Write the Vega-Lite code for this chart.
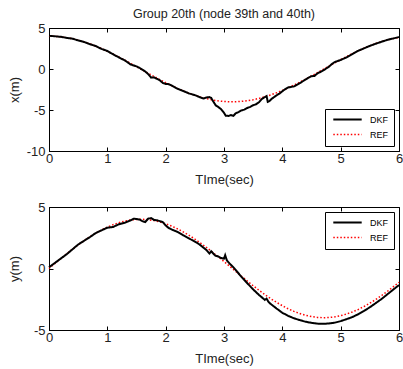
{
  "$schema": "https://vega.github.io/schema/vega-lite/v6.json",
  "padding": {"left": 7, "top": 7, "right": 0, "bottom": 0},
  "datasets": {
    "top": [
      {"s":"REF","t":0,"v":4.000},{"s":"REF","t":0.1,"v":3.980},{"s":"REF","t":0.2,"v":3.920},{"s":"REF","t":0.3,"v":3.821},{"s":"REF","t":0.4,"v":3.684},{"s":"REF","t":0.5,"v":3.510},{"s":"REF","t":0.6,"v":3.301},{"s":"REF","t":0.7,"v":3.059},{"s":"REF","t":0.8,"v":2.787},{"s":"REF","t":0.9,"v":2.486},{"s":"REF","t":1.0,"v":2.161},{"s":"REF","t":1.1,"v":1.814},{"s":"REF","t":1.2,"v":1.449},{"s":"REF","t":1.3,"v":1.070},{"s":"REF","t":1.4,"v":0.680},{"s":"REF","t":1.5,"v":0.283},{"s":"REF","t":1.6,"v":-0.117},{"s":"REF","t":1.7,"v":-0.515},{"s":"REF","t":1.8,"v":-0.909},{"s":"REF","t":1.9,"v":-1.293},{"s":"REF","t":2.0,"v":-1.665},{"s":"REF","t":2.1,"v":-2.019},{"s":"REF","t":2.2,"v":-2.354},{"s":"REF","t":2.3,"v":-2.665},{"s":"REF","t":2.4,"v":-2.950},{"s":"REF","t":2.5,"v":-3.205},{"s":"REF","t":2.6,"v":-3.428},{"s":"REF","t":2.7,"v":-3.616},{"s":"REF","t":2.8,"v":-3.769},{"s":"REF","t":2.9,"v":-3.884},{"s":"REF","t":3.0,"v":-3.960},{"s":"REF","t":3.1,"v":-3.997},{"s":"REF","t":3.2,"v":-3.993},{"s":"REF","t":3.3,"v":-3.950},{"s":"REF","t":3.4,"v":-3.867},{"s":"REF","t":3.5,"v":-3.746},{"s":"REF","t":3.6,"v":-3.587},{"s":"REF","t":3.7,"v":-3.392},{"s":"REF","t":3.8,"v":-3.164},{"s":"REF","t":3.9,"v":-2.904},{"s":"REF","t":4.0,"v":-2.615},{"s":"REF","t":4.1,"v":-2.299},{"s":"REF","t":4.2,"v":-1.961},{"s":"REF","t":4.3,"v":-1.603},{"s":"REF","t":4.4,"v":-1.229},{"s":"REF","t":4.5,"v":-0.843},{"s":"REF","t":4.6,"v":-0.449},{"s":"REF","t":4.7,"v":-0.050},{"s":"REF","t":4.8,"v":0.350},{"s":"REF","t":4.9,"v":0.746},{"s":"REF","t":5.0,"v":1.135},{"s":"REF","t":5.1,"v":1.512},{"s":"REF","t":5.2,"v":1.874},{"s":"REF","t":5.3,"v":2.217},{"s":"REF","t":5.4,"v":2.539},{"s":"REF","t":5.5,"v":2.835},{"s":"REF","t":5.6,"v":3.102},{"s":"REF","t":5.7,"v":3.339},{"s":"REF","t":5.8,"v":3.542},{"s":"REF","t":5.9,"v":3.710},{"s":"REF","t":6.0,"v":3.841},
      {"s":"DKF","t":0,"v":4.05},{"s":"DKF","t":0.1,"v":3.99},{"s":"DKF","t":0.2,"v":3.93},{"s":"DKF","t":0.3,"v":3.80},{"s":"DKF","t":0.4,"v":3.70},{"s":"DKF","t":0.5,"v":3.49},{"s":"DKF","t":0.6,"v":3.30},{"s":"DKF","t":0.7,"v":3.03},{"s":"DKF","t":0.8,"v":2.80},{"s":"DKF","t":0.9,"v":2.45},{"s":"DKF","t":1.0,"v":2.20},{"s":"DKF","t":1.05,"v":1.98},{"s":"DKF","t":1.1,"v":1.80},{"s":"DKF","t":1.2,"v":1.40},{"s":"DKF","t":1.3,"v":1.05},{"s":"DKF","t":1.35,"v":0.80},{"s":"DKF","t":1.4,"v":0.55},{"s":"DKF","t":1.5,"v":0.32},{"s":"DKF","t":1.55,"v":0.15},{"s":"DKF","t":1.6,"v":-0.08},{"s":"DKF","t":1.65,"v":-0.30},{"s":"DKF","t":1.7,"v":-0.62},{"s":"DKF","t":1.75,"v":-1.05},{"s":"DKF","t":1.8,"v":-1.02},{"s":"DKF","t":1.85,"v":-1.20},{"s":"DKF","t":1.9,"v":-1.38},{"s":"DKF","t":1.95,"v":-1.70},{"s":"DKF","t":2.0,"v":-1.82},{"s":"DKF","t":2.05,"v":-1.85},{"s":"DKF","t":2.1,"v":-2.00},{"s":"DKF","t":2.2,"v":-2.40},{"s":"DKF","t":2.3,"v":-2.68},{"s":"DKF","t":2.4,"v":-2.98},{"s":"DKF","t":2.5,"v":-3.18},{"s":"DKF","t":2.6,"v":-3.48},{"s":"DKF","t":2.65,"v":-3.60},{"s":"DKF","t":2.7,"v":-3.48},{"s":"DKF","t":2.75,"v":-3.42},{"s":"DKF","t":2.78,"v":-3.52},{"s":"DKF","t":2.82,"v":-4.00},{"s":"DKF","t":2.86,"v":-4.45},{"s":"DKF","t":2.9,"v":-4.62},{"s":"DKF","t":2.95,"v":-4.90},{"s":"DKF","t":3.0,"v":-5.35},{"s":"DKF","t":3.03,"v":-5.70},{"s":"DKF","t":3.08,"v":-5.72},{"s":"DKF","t":3.12,"v":-5.62},{"s":"DKF","t":3.16,"v":-5.72},{"s":"DKF","t":3.2,"v":-5.40},{"s":"DKF","t":3.25,"v":-5.25},{"s":"DKF","t":3.3,"v":-5.05},{"s":"DKF","t":3.35,"v":-4.95},{"s":"DKF","t":3.4,"v":-4.75},{"s":"DKF","t":3.45,"v":-4.62},{"s":"DKF","t":3.5,"v":-4.42},{"s":"DKF","t":3.55,"v":-4.30},{"s":"DKF","t":3.6,"v":-4.05},{"s":"DKF","t":3.65,"v":-3.65},{"s":"DKF","t":3.7,"v":-3.42},{"s":"DKF","t":3.73,"v":-3.30},{"s":"DKF","t":3.75,"v":-4.00},{"s":"DKF","t":3.78,"v":-3.90},{"s":"DKF","t":3.82,"v":-3.62},{"s":"DKF","t":3.9,"v":-3.22},{"s":"DKF","t":3.95,"v":-3.00},{"s":"DKF","t":4.0,"v":-2.72},{"s":"DKF","t":4.05,"v":-2.45},{"s":"DKF","t":4.1,"v":-2.25},{"s":"DKF","t":4.2,"v":-2.12},{"s":"DKF","t":4.3,"v":-1.72},{"s":"DKF","t":4.4,"v":-1.28},{"s":"DKF","t":4.45,"v":-1.05},{"s":"DKF","t":4.5,"v":-0.88},{"s":"DKF","t":4.55,"v":-0.85},{"s":"DKF","t":4.6,"v":-0.55},{"s":"DKF","t":4.7,"v":-0.18},{"s":"DKF","t":4.8,"v":0.28},{"s":"DKF","t":4.85,"v":0.62},{"s":"DKF","t":4.9,"v":0.85},{"s":"DKF","t":5.0,"v":1.10},{"s":"DKF","t":5.1,"v":1.42},{"s":"DKF","t":5.2,"v":1.82},{"s":"DKF","t":5.3,"v":2.22},{"s":"DKF","t":5.4,"v":2.52},{"s":"DKF","t":5.5,"v":2.82},{"s":"DKF","t":5.6,"v":3.08},{"s":"DKF","t":5.7,"v":3.32},{"s":"DKF","t":5.8,"v":3.55},{"s":"DKF","t":5.9,"v":3.72},{"s":"DKF","t":6.0,"v":3.90}
    ],
    "bottom": [
      {"s":"REF","t":0,"v":0.000},{"s":"REF","t":0.1,"v":0.399},{"s":"REF","t":0.2,"v":0.795},{"s":"REF","t":0.3,"v":1.182},{"s":"REF","t":0.4,"v":1.558},{"s":"REF","t":0.5,"v":1.918},{"s":"REF","t":0.6,"v":2.259},{"s":"REF","t":0.7,"v":2.577},{"s":"REF","t":0.8,"v":2.869},{"s":"REF","t":0.9,"v":3.133},{"s":"REF","t":1.0,"v":3.366},{"s":"REF","t":1.1,"v":3.565},{"s":"REF","t":1.2,"v":3.728},{"s":"REF","t":1.3,"v":3.854},{"s":"REF","t":1.4,"v":3.942},{"s":"REF","t":1.5,"v":3.990},{"s":"REF","t":1.6,"v":3.998},{"s":"REF","t":1.7,"v":3.967},{"s":"REF","t":1.8,"v":3.895},{"s":"REF","t":1.9,"v":3.785},{"s":"REF","t":2.0,"v":3.637},{"s":"REF","t":2.1,"v":3.453},{"s":"REF","t":2.2,"v":3.234},{"s":"REF","t":2.3,"v":2.983},{"s":"REF","t":2.4,"v":2.702},{"s":"REF","t":2.5,"v":2.394},{"s":"REF","t":2.6,"v":2.062},{"s":"REF","t":2.7,"v":1.710},{"s":"REF","t":2.8,"v":1.340},{"s":"REF","t":2.9,"v":0.957},{"s":"REF","t":3.0,"v":0.564},{"s":"REF","t":3.1,"v":0.166},{"s":"REF","t":3.2,"v":-0.233},{"s":"REF","t":3.3,"v":-0.631},{"s":"REF","t":3.4,"v":-1.022},{"s":"REF","t":3.5,"v":-1.403},{"s":"REF","t":3.6,"v":-1.770},{"s":"REF","t":3.7,"v":-2.119},{"s":"REF","t":3.8,"v":-2.447},{"s":"REF","t":3.9,"v":-2.751},{"s":"REF","t":4.0,"v":-3.027},{"s":"REF","t":4.1,"v":-3.273},{"s":"REF","t":4.2,"v":-3.486},{"s":"REF","t":4.3,"v":-3.665},{"s":"REF","t":4.4,"v":-3.806},{"s":"REF","t":4.5,"v":-3.910},{"s":"REF","t":4.6,"v":-3.975},{"s":"REF","t":4.7,"v":-4.000},{"s":"REF","t":4.8,"v":-3.985},{"s":"REF","t":4.9,"v":-3.930},{"s":"REF","t":5.0,"v":-3.836},{"s":"REF","t":5.1,"v":-3.703},{"s":"REF","t":5.2,"v":-3.534},{"s":"REF","t":5.3,"v":-3.329},{"s":"REF","t":5.4,"v":-3.091},{"s":"REF","t":5.5,"v":-2.822},{"s":"REF","t":5.6,"v":-2.525},{"s":"REF","t":5.7,"v":-2.203},{"s":"REF","t":5.8,"v":-1.858},{"s":"REF","t":5.9,"v":-1.496},{"s":"REF","t":6.0,"v":-1.118},
      {"s":"DKF","t":0,"v":0.10},{"s":"DKF","t":0.1,"v":0.45},{"s":"DKF","t":0.2,"v":0.80},{"s":"DKF","t":0.3,"v":1.15},{"s":"DKF","t":0.4,"v":1.55},{"s":"DKF","t":0.5,"v":1.95},{"s":"DKF","t":0.6,"v":2.25},{"s":"DKF","t":0.7,"v":2.55},{"s":"DKF","t":0.8,"v":2.88},{"s":"DKF","t":0.9,"v":3.10},{"s":"DKF","t":1.0,"v":3.32},{"s":"DKF","t":1.1,"v":3.38},{"s":"DKF","t":1.2,"v":3.60},{"s":"DKF","t":1.3,"v":3.72},{"s":"DKF","t":1.4,"v":3.92},{"s":"DKF","t":1.45,"v":4.05},{"s":"DKF","t":1.5,"v":4.02},{"s":"DKF","t":1.55,"v":3.98},{"s":"DKF","t":1.6,"v":3.85},{"s":"DKF","t":1.65,"v":3.78},{"s":"DKF","t":1.7,"v":4.05},{"s":"DKF","t":1.75,"v":4.10},{"s":"DKF","t":1.8,"v":3.95},{"s":"DKF","t":1.85,"v":3.92},{"s":"DKF","t":1.9,"v":3.85},{"s":"DKF","t":1.95,"v":3.78},{"s":"DKF","t":2.0,"v":3.50},{"s":"DKF","t":2.05,"v":3.30},{"s":"DKF","t":2.1,"v":3.18},{"s":"DKF","t":2.2,"v":2.98},{"s":"DKF","t":2.3,"v":2.70},{"s":"DKF","t":2.4,"v":2.45},{"s":"DKF","t":2.5,"v":2.18},{"s":"DKF","t":2.55,"v":2.05},{"s":"DKF","t":2.6,"v":1.88},{"s":"DKF","t":2.7,"v":1.50},{"s":"DKF","t":2.75,"v":1.22},{"s":"DKF","t":2.78,"v":1.40},{"s":"DKF","t":2.8,"v":1.30},{"s":"DKF","t":2.85,"v":1.05},{"s":"DKF","t":2.9,"v":0.98},{"s":"DKF","t":2.95,"v":0.85},{"s":"DKF","t":3.0,"v":0.80},{"s":"DKF","t":3.02,"v":1.08},{"s":"DKF","t":3.05,"v":0.65},{"s":"DKF","t":3.1,"v":0.38},{"s":"DKF","t":3.15,"v":0.15},{"s":"DKF","t":3.2,"v":-0.12},{"s":"DKF","t":3.3,"v":-0.68},{"s":"DKF","t":3.4,"v":-1.20},{"s":"DKF","t":3.5,"v":-1.70},{"s":"DKF","t":3.6,"v":-2.15},{"s":"DKF","t":3.7,"v":-2.55},{"s":"DKF","t":3.73,"v":-2.45},{"s":"DKF","t":3.76,"v":-2.70},{"s":"DKF","t":3.8,"v":-2.88},{"s":"DKF","t":3.9,"v":-3.25},{"s":"DKF","t":4.0,"v":-3.60},{"s":"DKF","t":4.1,"v":-3.85},{"s":"DKF","t":4.2,"v":-4.05},{"s":"DKF","t":4.3,"v":-4.20},{"s":"DKF","t":4.4,"v":-4.33},{"s":"DKF","t":4.5,"v":-4.42},{"s":"DKF","t":4.6,"v":-4.48},{"s":"DKF","t":4.7,"v":-4.50},{"s":"DKF","t":4.8,"v":-4.47},{"s":"DKF","t":4.9,"v":-4.40},{"s":"DKF","t":5.0,"v":-4.28},{"s":"DKF","t":5.1,"v":-4.12},{"s":"DKF","t":5.2,"v":-3.95},{"s":"DKF","t":5.3,"v":-3.72},{"s":"DKF","t":5.4,"v":-3.45},{"s":"DKF","t":5.5,"v":-3.15},{"s":"DKF","t":5.6,"v":-2.82},{"s":"DKF","t":5.7,"v":-2.48},{"s":"DKF","t":5.8,"v":-2.10},{"s":"DKF","t":5.9,"v":-1.72},{"s":"DKF","t":6.0,"v":-1.35}
    ]
  },
  "vconcat": [
    {
      "data": {"name": "top"},
      "width": 350,
      "height": 123,
      "title": {"text": "Group 20th (node 39th and 40th)", "anchor": "middle", "frame": "group", "fontSize": 12.5, "fontWeight": "normal", "color": "#222", "baseline": "alphabetic", "offset": -8.5, "font": "Liberation Sans"},
      "layer": [
        {
          "mark": {"type": "line", "strokeCap": "butt"},
          "encoding": {
            "x": {"field": "t", "type": "quantitative", "scale": {"domain": [0, 6], "nice": false, "zero": false},
                  "axis": {"orient": "bottom", "values": [0,1,2,3,4,5,6], "labelExpr": "'' + datum.value", "title": "TIme(sec)", "titleX": 175, "titleY": 32, "titleBaseline": "alphabetic", "labelPadding": 5.5}},
            "y": {"field": "v", "type": "quantitative", "scale": {"domain": [-10, 5], "nice": false, "zero": false},
                  "axis": {"orient": "left", "values": [-10,-5,0,5], "labelExpr": "'' + datum.value", "title": "x(m)", "titleX": -35, "titleY": 61.5, "titleBaseline": "middle", "labelPadding": 8}},
            "color": {"field": "s", "type": "nominal", "scale": {"domain": ["DKF","REF"], "range": ["#000000","#ff0000"]},
                      "legend": {"title": null, "orient": "bottom-right", "offset": 5}},
            "strokeDash": {"field": "s", "type": "nominal", "scale": {"domain": ["DKF","REF"], "range": [[1,0],[1.5,2]]},
                      "legend": {"title": null, "orient": "bottom-right", "offset": 5}},
            "strokeWidth": {"field": "s", "type": "nominal", "scale": {"domain": ["DKF","REF"], "range": [2,1.5]},
                      "legend": {"title": null, "orient": "bottom-right", "offset": 5}}
          }
        },
        {
          "mark": {"type": "line", "opacity": 0},
          "encoding": {
            "x": {"field": "t", "type": "quantitative", "axis": {"orient": "top", "values": [0,1,2,3,4,5,6], "labels": false, "title": null, "domain": false}},
            "y": {"field": "v", "type": "quantitative", "axis": {"orient": "right", "values": [-10,-5,0,5], "labels": false, "title": null, "domain": false}},
            "detail": {"field": "s"}
          }
        }
      ],
      "resolve": {"axis": {"x": "independent", "y": "independent"}}
    },
    {
      "data": {"name": "bottom"},
      "width": 350,
      "height": 123,
      "layer": [
        {
          "mark": {"type": "line", "strokeCap": "butt"},
          "encoding": {
            "x": {"field": "t", "type": "quantitative", "scale": {"domain": [0, 6], "nice": false, "zero": false},
                  "axis": {"orient": "bottom", "values": [0,1,2,3,4,5,6], "labelExpr": "'' + datum.value", "title": "TIme(sec)", "titleX": 175, "titleY": 32, "titleBaseline": "alphabetic", "labelPadding": 5.5}},
            "y": {"field": "v", "type": "quantitative", "scale": {"domain": [-5, 5], "nice": false, "zero": false},
                  "axis": {"orient": "left", "values": [-5,0,5], "labelExpr": "'' + datum.value", "title": "y(m)", "titleX": -35, "titleY": 61.5, "titleBaseline": "middle", "labelPadding": 8}},
            "color": {"field": "s", "type": "nominal", "scale": {"domain": ["DKF","REF"], "range": ["#000000","#ff0000"]},
                      "legend": {"title": null, "orient": "top-right", "offset": 5}},
            "strokeDash": {"field": "s", "type": "nominal", "scale": {"domain": ["DKF","REF"], "range": [[1,0],[1.5,2]]},
                      "legend": {"title": null, "orient": "top-right", "offset": 5}},
            "strokeWidth": {"field": "s", "type": "nominal", "scale": {"domain": ["DKF","REF"], "range": [2,1.5]},
                      "legend": {"title": null, "orient": "top-right", "offset": 5}}
          }
        },
        {
          "mark": {"type": "line", "opacity": 0},
          "encoding": {
            "x": {"field": "t", "type": "quantitative", "axis": {"orient": "top", "values": [0,1,2,3,4,5,6], "labels": false, "title": null, "domain": false}},
            "y": {"field": "v", "type": "quantitative", "axis": {"orient": "right", "values": [-5,0,5], "labels": false, "title": null, "domain": false}},
            "detail": {"field": "s"}
          }
        }
      ],
      "resolve": {"axis": {"x": "independent", "y": "independent"}}
    }
  ],
  "spacing": 56,
  "bounds": "flush",
  "resolve": {"scale": {"color": "independent", "strokeDash": "independent", "strokeWidth": "independent"}},
  "config": {
    "font": "Liberation Sans",
    "background": "white",
    "view": {"stroke": "#000000", "strokeWidth": 1},
    "axis": {"grid": false, "domainColor": "#000000", "domainWidth": 1, "tickColor": "#000000", "tickSize": -4, "tickWidth": 1,
             "labelFont": "Liberation Sans", "labelFontSize": 13, "labelColor": "#222222", "labelFlush": false, "labelOverlap": false, "labelBound": false,
             "titleFont": "Liberation Sans", "titleFontSize": 13, "titleColor": "#222222", "titleFontWeight": "normal"},
    "legend": {"fillColor": "#ffffff", "strokeColor": "#000000", "padding": 6, "rowPadding": 5, "cornerRadius": 0,
               "labelFont": "Liberation Sans", "labelFontSize": 9, "labelColor": "#000000",
               "symbolType": "M-7.1,0H7.1", "symbolSize": 16, "symbolOffset": 12, "labelOffset": 18}
  }
}
